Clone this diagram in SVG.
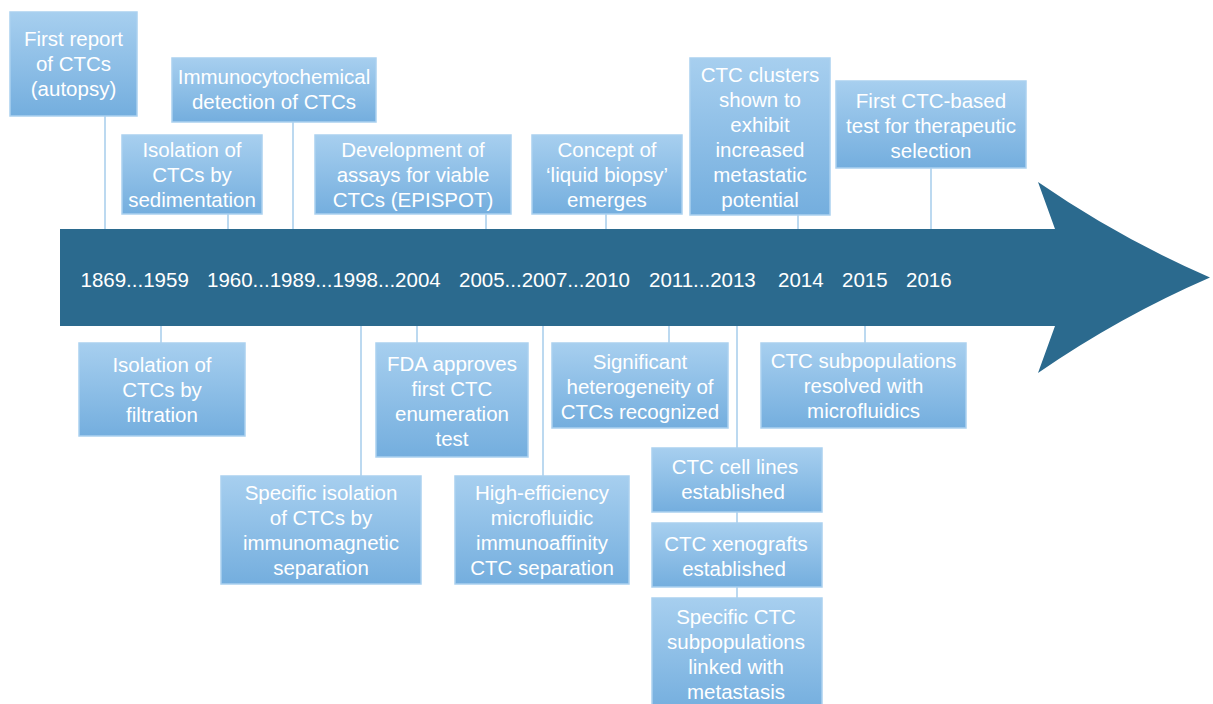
<svg xmlns="http://www.w3.org/2000/svg" width="1213" height="704" viewBox="0 0 1213 704">
<defs>
<linearGradient id="bg" x1="0" y1="0" x2="0" y2="1">
<stop offset="0" stop-color="#a7cfef"/>
<stop offset="1" stop-color="#74aede"/>
</linearGradient>
<style>
.box{fill:url(#bg);stroke:#abd1ef;stroke-width:1.5}
.t{font-family:"Liberation Sans",Arial,sans-serif;font-size:20.5px;fill:#ffffff;text-anchor:middle}
.yr{font-family:"Liberation Sans",Arial,sans-serif;font-size:20.5px;fill:#ffffff}
.c{stroke:#a6cdeb;stroke-width:1.5;fill:none}
</style>
</defs>
<rect width="1213" height="704" fill="#ffffff"/>
<g id="connectors">
<line class="c" x1="105" y1="116" x2="105" y2="230"/>
<line class="c" x1="293" y1="122" x2="293" y2="230"/>
<line class="c" x1="228" y1="214" x2="228" y2="230"/>
<line class="c" x1="486" y1="214" x2="486" y2="230"/>
<line class="c" x1="606" y1="214" x2="606" y2="230"/>
<line class="c" x1="798" y1="215" x2="798" y2="230"/>
<line class="c" x1="931" y1="168" x2="931" y2="230"/>
<line class="c" x1="161" y1="325" x2="161" y2="343"/>
<line class="c" x1="361" y1="325" x2="361" y2="476"/>
<line class="c" x1="417" y1="325" x2="417" y2="343"/>
<line class="c" x1="543" y1="325" x2="543" y2="476"/>
<line class="c" x1="669" y1="325" x2="669" y2="343"/>
<line class="c" x1="737" y1="325" x2="737" y2="598"/>
<line class="c" x1="865" y1="325" x2="865" y2="343"/>
</g>
<g id="arrow">
<path d="M60 229 H1055 L1038 182 Q1119 238 1210 277.5 Q1119 317 1038 373 L1055 326 H60 Z" fill="#2b6a8e"/>
<text class="yr" x="80.5" y="287">1869...1959</text>
<text class="yr" x="207" y="287">1960...1989...1998...2004</text>
<text class="yr" x="459" y="287">2005...2007...2010</text>
<text class="yr" x="649" y="287">2011...2013</text>
<text class="yr" x="778" y="287">2014</text>
<text class="yr" x="842" y="287">2015</text>
<text class="yr" x="906" y="287">2016</text>
</g>
<g id="n1869"><rect class="box" x="10" y="12" width="127" height="104"/>
<text class="t" x="73.5" y="46">First report</text><text class="t" x="73.5" y="71">of CTCs</text><text class="t" x="73.5" y="96">(autopsy)</text></g>
<g id="n1989"><rect class="box" x="172" y="58" width="204" height="64"/>
<text class="t" x="274" y="83.5">Immunocytochemical</text><text class="t" x="274" y="108.5">detection of CTCs</text></g>
<g id="n1960"><rect class="box" x="122" y="135" width="140" height="79"/>
<text class="t" x="192" y="156.5">Isolation of</text><text class="t" x="192" y="181.5">CTCs by</text><text class="t" x="192" y="206.5">sedimentation</text></g>
<g id="n2005"><rect class="box" x="315" y="135" width="196" height="79"/>
<text class="t" x="413" y="156.5">Development of</text><text class="t" x="413" y="181.5">assays for viable</text><text class="t" x="413" y="206.5">CTCs (EPISPOT)</text></g>
<g id="n2010"><rect class="box" x="532" y="135" width="150" height="79"/>
<text class="t" x="607" y="156.5">Concept of</text><text class="t" x="607" y="181.5">‘liquid biopsy’</text><text class="t" x="607" y="206.5">emerges</text></g>
<g id="n2014"><rect class="box" x="690" y="58" width="140" height="157"/>
<text class="t" x="760" y="81.5">CTC clusters</text><text class="t" x="760" y="106.5">shown to</text><text class="t" x="760" y="131.5">exhibit</text><text class="t" x="760" y="156.5">increased</text><text class="t" x="760" y="181.5">metastatic</text><text class="t" x="760" y="206.5">potential</text></g>
<g id="n2016"><rect class="box" x="836" y="81" width="190" height="87"/>
<text class="t" x="931" y="107.5">First CTC-based</text><text class="t" x="931" y="132.5">test for therapeutic</text><text class="t" x="931" y="157.5">selection</text></g>
<g id="n1959"><rect class="box" x="79" y="343" width="166" height="93"/>
<text class="t" x="162" y="371.5">Isolation of</text><text class="t" x="162" y="396.5">CTCs by</text><text class="t" x="162" y="421.5">filtration</text></g>
<g id="n1998"><rect class="box" x="221" y="476" width="200" height="108"/>
<text class="t" x="321" y="500">Specific isolation</text><text class="t" x="321" y="525">of CTCs by</text><text class="t" x="321" y="550">immunomagnetic</text><text class="t" x="321" y="575">separation</text></g>
<g id="n2004"><rect class="box" x="376" y="343" width="152" height="114"/>
<text class="t" x="452" y="371">FDA approves</text><text class="t" x="452" y="396">first CTC</text><text class="t" x="452" y="421">enumeration</text><text class="t" x="452" y="446">test</text></g>
<g id="n2007"><rect class="box" x="455" y="476" width="174" height="108"/>
<text class="t" x="542" y="500">High-efficiency</text><text class="t" x="542" y="525">microfluidic</text><text class="t" x="542" y="550">immunoaffinity</text><text class="t" x="542" y="575">CTC separation</text></g>
<g id="n2011"><rect class="box" x="552" y="343" width="176" height="85"/>
<text class="t" x="640" y="369">Significant</text><text class="t" x="640" y="394">heterogeneity of</text><text class="t" x="640" y="419">CTCs recognized</text></g>
<g id="n2015"><rect class="box" x="761" y="343" width="205" height="85"/>
<text class="t" x="863.5" y="368">CTC subpopulations</text><text class="t" x="863.5" y="393">resolved with</text><text class="t" x="863.5" y="418">microfluidics</text></g>
<g id="n2013a"><rect class="box" x="652" y="448" width="170" height="64"/>
<text class="t" x="735" y="473.5">CTC cell lines</text><text class="t" x="733" y="498.5">established</text></g>
<g id="n2013b"><rect class="box" x="652" y="523" width="170" height="64"/>
<text class="t" x="736" y="551">CTC xenografts</text><text class="t" x="734" y="576">established</text></g>
<g id="n2013c"><rect class="box" x="652" y="598" width="170" height="114"/>
<text class="t" x="736" y="623.5">Specific CTC</text><text class="t" x="736" y="648.5">subpopulations</text><text class="t" x="736" y="673.5">linked with</text><text class="t" x="736" y="698.5">metastasis</text></g>
</svg>
